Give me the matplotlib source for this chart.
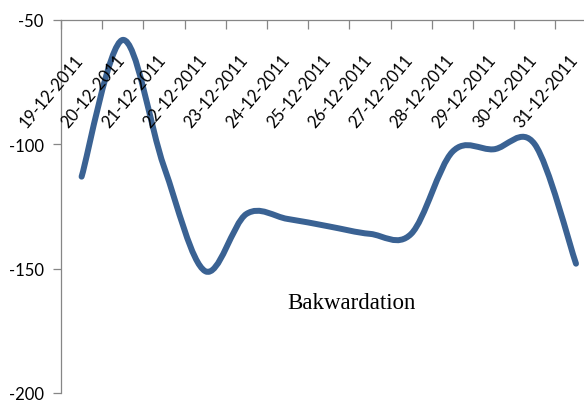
import numpy as np
import matplotlib
matplotlib.use("Agg")
import matplotlib.pyplot as plt
from matplotlib.path import Path
from matplotlib.patches import PathPatch
from matplotlib.transforms import offset_copy

# data
dates = ["19-12-2011", "20-12-2011", "21-12-2011", "22-12-2011", "23-12-2011",
         "24-12-2011", "25-12-2011", "26-12-2011", "27-12-2011", "28-12-2011",
         "29-12-2011", "30-12-2011", "31-12-2011"]
values = [-113, -58, -109, -151, -128, -130, -133, -136, -136, -103, -102, -100, -148]
y_ticks = [-200, -150, -100, -50]
note = "Bakwardation"

LINE_COLOR = "#3A6293"
AXIS_COLOR = "#868686"


def smooth_path(xs, ys):
    # Catmull-Rom style bezier through the points (like a "smoothed line")
    pts = np.column_stack([xs, ys]).astype(float)
    n = len(pts)
    verts = [pts[0]]
    codes = [Path.MOVETO]
    for i in range(n - 1):
        p_prev = pts[i - 1] if i > 0 else pts[i]
        p_next2 = pts[i + 2] if i + 2 < n else pts[i + 1]
        c1 = pts[i] + (pts[i + 1] - p_prev) / 6.0
        c2 = pts[i + 1] - (p_next2 - pts[i]) / 6.0
        verts += [c1, c2, pts[i + 1]]
        codes += [Path.CURVE4] * 3
    return Path(verts, codes)


fig = plt.figure(figsize=(5.84, 4.02), dpi=100)
# plot area runs a little past the right edge of the picture
ax = fig.add_axes([61 / 584, 8 / 402, 535.6 / 584, 373 / 402])

x = np.arange(len(dates))
patch = PathPatch(smooth_path(x, values), fill=False, edgecolor=LINE_COLOR,
                  lw=4.3, capstyle="round", joinstyle="round")
ax.add_patch(patch)

ax.set_xlim(-0.5, len(dates) - 0.5)
ax.set_ylim(-200, -50)

for side in ["bottom", "right"]:
    ax.spines[side].set_visible(False)
for side in ["top", "left"]:
    ax.spines[side].set_color(AXIS_COLOR)
    ax.spines[side].set_linewidth(0.9)

ax.xaxis.tick_top()
ax.set_xticks(np.arange(-0.5, len(dates), 1.0))
ax.set_xticklabels([])
ax.tick_params(axis="x", direction="in", length=6.5, width=0.9, color=AXIS_COLOR)

ax.set_yticks(y_ticks)
ax.set_yticklabels([str(v) for v in y_ticks], fontfamily="Lato", fontsize=12)
ax.tick_params(axis="y", direction="out", length=5.5, width=0.9,
               color=AXIS_COLOR, pad=7)

# rotated category labels hanging just under the top axis line
lab_tr = offset_copy(ax.get_xaxis_transform(), fig=fig, x=2.5, y=-40, units="dots")
for i, d in enumerate(dates):
    ax.text(i, 1.0, d, transform=lab_tr, rotation=50, rotation_mode="anchor",
            ha="right", va="baseline", fontfamily="Lato", fontsize=12)

ax.text(5.0, -166, note, ha="left", va="baseline",
        fontfamily="Liberation Serif", fontsize=16.5)

fig.savefig("out.png", dpi=100)
